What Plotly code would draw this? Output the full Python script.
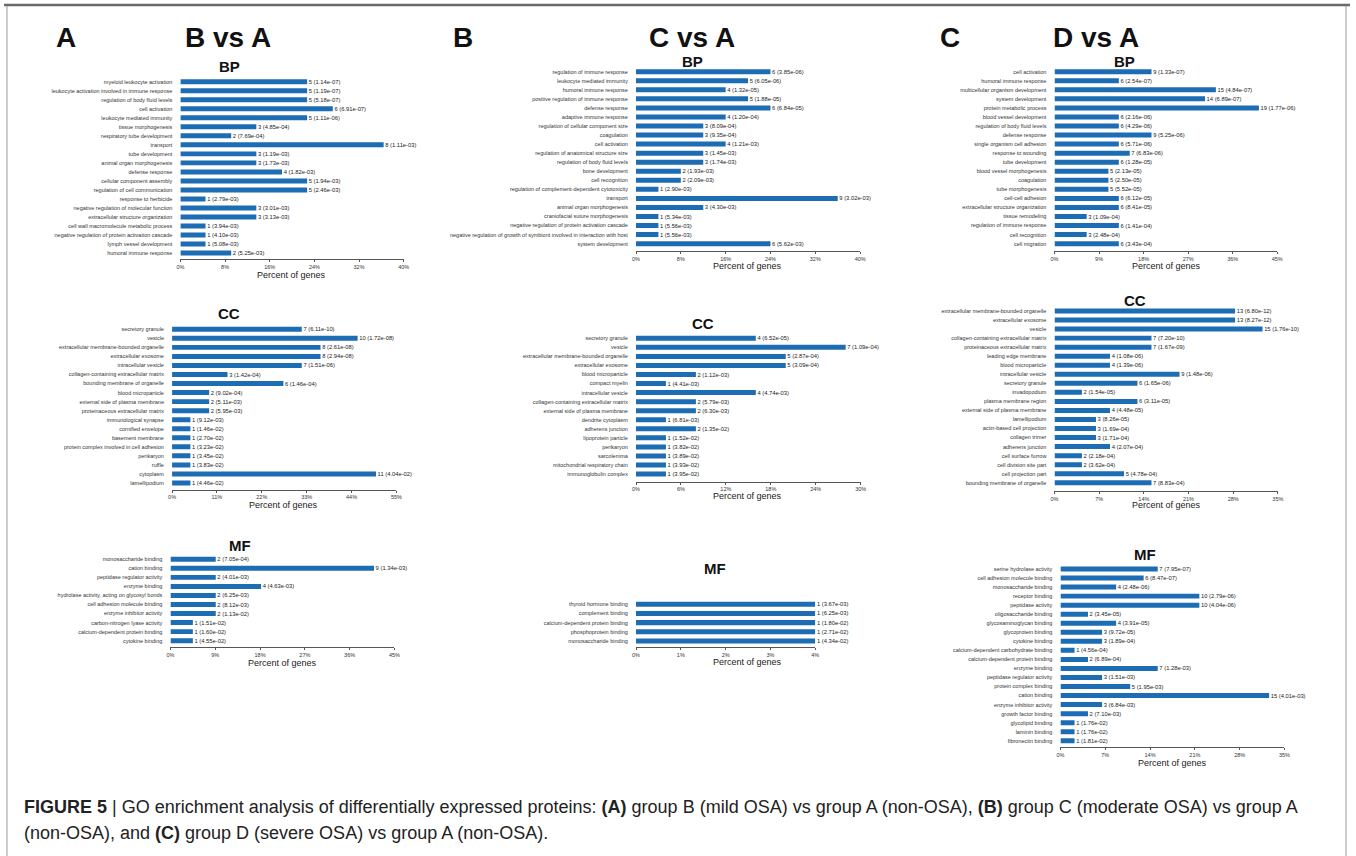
import plotly.graph_objects as go

W, H = 1356, 856
FONT = "Arial, Liberation Sans, sans-serif"
BAR = "#1c6db3"

# ---------------- data ----------------
# Panel A: B vs A
a_bp_terms = ["myeloid leukocyte activation", "leukocyte activation involved in immune response",
              "regulation of body fluid levels", "cell activation", "leukocyte mediated immunity",
              "tissue morphogenesis", "respiratory tube development", "transport", "tube development",
              "animal organ morphogenesis", "defense response", "cellular component assembly",
              "regulation of cell communication", "response to herbicide",
              "negative regulation of molecular function", "extracellular structure organization",
              "cell wall macromolecule metabolic process", "negative regulation of protein activation cascade",
              "lymph vessel development", "humoral immune response"]
a_bp_count = [5, 5, 5, 6, 5, 3, 2, 8, 3, 3, 4, 5, 5, 1, 3, 3, 1, 1, 1, 2]
a_bp_pct = [22.7, 22.7, 22.7, 27.3, 22.7, 13.6, 9.1, 36.4, 13.6, 13.6, 18.2, 22.7, 22.7, 4.5, 13.6, 13.6, 4.5, 4.5, 4.5, 9.1]
a_bp_p = ["1.14e-07", "1.19e-07", "5.18e-07", "6.91e-07", "1.11e-06", "4.85e-04", "7.69e-04", "1.11e-03",
          "1.19e-03", "1.73e-03", "1.82e-03", "1.94e-03", "2.46e-03", "2.79e-03", "3.01e-03", "3.13e-03",
          "3.94e-03", "4.10e-03", "5.08e-03", "5.25e-03"]

a_cc_terms = ["secretory granule", "vesicle", "extracellular membrane-bounded organelle", "extracellular exosome",
              "intracellular vesicle", "collagen-containing extracellular matrix", "bounding membrane of organelle",
              "blood microparticle", "external side of plasma membrane", "proteinaceous extracellular matrix",
              "immunological synapse", "cornified envelope", "basement membrane",
              "protein complex involved in cell adhesion", "perikaryon", "ruffle", "cytoplasm", "lamellipodium"]
a_cc_count = [7, 10, 8, 8, 7, 3, 6, 2, 2, 2, 1, 1, 1, 1, 1, 1, 11, 1]
a_cc_pct = [31.8, 45.5, 36.4, 36.4, 31.8, 13.6, 27.3, 9.1, 9.1, 9.1, 4.5, 4.5, 4.5, 4.5, 4.5, 4.5, 50.0, 4.5]
a_cc_p = ["6.11e-10", "1.72e-08", "2.61e-08", "2.94e-08", "1.51e-06", "1.42e-04", "1.46e-04", "9.02e-04",
          "5.11e-03", "5.95e-03", "9.12e-03", "1.46e-02", "2.70e-02", "3.23e-02", "3.45e-02", "3.83e-02",
          "4.04e-02", "4.46e-02"]

a_mf_terms = ["monosaccharide binding", "cation binding", "peptidase regulator activity", "enzyme binding",
              "hydrolase activity, acting on glycosyl bonds", "cell adhesion molecule binding",
              "enzyme inhibitor activity", "carbon-nitrogen lyase activity", "calcium-dependent protein binding",
              "cytokine binding"]
a_mf_count = [2, 9, 2, 4, 2, 2, 2, 1, 1, 1]
a_mf_pct = [9.1, 40.9, 9.1, 18.2, 9.1, 9.1, 9.1, 4.5, 4.5, 4.5]
a_mf_p = ["7.05e-04", "1.34e-03", "4.01e-03", "4.63e-03", "6.25e-03", "8.12e-03", "1.13e-02", "1.51e-02",
          "1.60e-02", "4.55e-02"]

# Panel B: C vs A
b_bp_terms = ["regulation of immune response", "leukocyte mediated immunity", "humoral immune response",
              "positive regulation of immune response", "defense response", "adaptive immune response",
              "regulation of cellular component size", "coagulation", "cell activation",
              "regulation of anatomical structure size", "regulation of body fluid levels", "bone development",
              "cell recognition", "regulation of complement-dependent cytotoxicity", "transport",
              "animal organ morphogenesis", "craniofacial suture morphogenesis",
              "negative regulation of protein activation cascade",
              "negative regulation of growth of symbiont involved in interaction with host", "system development"]
b_bp_count = [6, 5, 4, 5, 6, 4, 3, 3, 4, 3, 3, 2, 2, 1, 9, 3, 1, 1, 1, 6]
b_bp_pct = [24, 20, 16, 20, 24, 16, 12, 12, 16, 12, 12, 8, 8, 4, 36, 12, 4, 4, 4, 24]
b_bp_p = ["3.85e-06", "6.05e-06", "1.32e-05", "1.88e-05", "6.84e-05", "1.20e-04", "8.09e-04", "9.35e-04",
          "1.21e-03", "1.45e-03", "1.74e-03", "1.93e-03", "2.09e-03", "2.90e-03", "3.02e-03", "4.30e-03",
          "5.34e-03", "5.56e-03", "5.56e-03", "5.62e-03"]

b_cc_terms = ["secretory granule", "vesicle", "extracellular membrane-bounded organelle", "extracellular exosome",
              "blood microparticle", "compact myelin", "intracellular vesicle",
              "collagen-containing extracellular matrix", "external side of plasma membrane", "dendrite cytoplasm",
              "adherens junction", "lipoprotein particle", "perikaryon", "sarcolemma",
              "mitochondrial respiratory chain", "immunoglobulin complex"]
b_cc_count = [4, 7, 5, 5, 2, 1, 4, 2, 2, 1, 2, 1, 1, 1, 1, 1]
b_cc_pct = [16, 28, 20, 20, 8, 4, 16, 8, 8, 4, 8, 4, 4, 4, 4, 4]
b_cc_p = ["6.52e-05", "1.09e-04", "2.87e-04", "3.09e-04", "1.12e-03", "4.41e-03", "4.74e-03", "5.79e-03",
          "6.30e-03", "6.81e-03", "1.35e-02", "1.52e-02", "3.82e-02", "3.89e-02", "3.93e-02", "3.95e-02"]

b_mf_terms = ["thyroid hormone binding", "complement binding", "calcium-dependent protein binding",
              "phosphoprotein binding", "monosaccharide binding"]
b_mf_count = [1, 1, 1, 1, 1]
b_mf_pct = [4, 4, 4, 4, 4]
b_mf_p = ["3.67e-03", "6.25e-03", "1.80e-02", "2.71e-02", "4.34e-02"]

# Panel C: D vs A
c_bp_terms = ["cell activation", "humoral immune response", "multicellular organism development",
              "system development", "protein metabolic process", "blood vessel development",
              "regulation of body fluid levels", "defense response", "single organism cell adhesion",
              "response to wounding", "tube development", "blood vessel morphogenesis", "coagulation",
              "tube morphogenesis", "cell-cell adhesion", "extracellular structure organization",
              "tissue remodeling", "regulation of immune response", "cell recognition", "cell migration"]
c_bp_count = [9, 6, 15, 14, 19, 6, 6, 9, 6, 7, 6, 5, 5, 5, 6, 6, 3, 6, 3, 6]
c_bp_pct = [19.6, 13.0, 32.6, 30.4, 41.3, 13.0, 13.0, 19.6, 13.0, 15.2, 13.0, 10.9, 10.9, 10.9, 13.0, 13.0,
            6.5, 13.0, 6.5, 13.0]
c_bp_p = ["1.33e-07", "2.54e-07", "4.84e-07", "6.89e-07", "1.77e-06", "2.16e-06", "4.29e-06", "5.25e-06",
          "5.71e-06", "6.83e-06", "1.28e-05", "2.13e-05", "2.50e-05", "5.52e-05", "6.12e-05", "8.41e-05",
          "1.09e-04", "1.41e-04", "2.48e-04", "3.43e-04"]

c_cc_terms = ["extracellular membrane-bounded organelle", "extracellular exosome", "vesicle",
              "collagen-containing extracellular matrix", "proteinaceous extracellular matrix",
              "leading edge membrane", "blood microparticle", "intracellular vesicle", "secretory granule",
              "invadopodium", "plasma membrane region", "external side of plasma membrane", "lamellipodium",
              "actin-based cell projection", "collagen trimer", "adherens junction", "cell surface furrow",
              "cell division site part", "cell projection part", "bounding membrane of organelle"]
c_cc_count = [13, 13, 15, 7, 7, 4, 4, 9, 6, 2, 6, 4, 3, 3, 3, 4, 2, 2, 5, 7]
c_cc_pct = [28.3, 28.3, 32.6, 15.2, 15.2, 8.7, 8.7, 19.6, 13.0, 4.3, 13.0, 8.7, 6.5, 6.5, 6.5, 8.7, 4.3, 4.3,
            10.9, 15.2]
c_cc_p = ["6.80e-12", "8.27e-12", "1.76e-10", "7.20e-10", "1.67e-09", "1.08e-06", "1.39e-06", "1.48e-06",
          "1.65e-06", "1.54e-05", "3.11e-05", "4.48e-05", "8.26e-05", "1.69e-04", "1.71e-04", "2.07e-04",
          "2.18e-04", "3.62e-04", "4.78e-04", "8.83e-04"]

c_mf_terms = ["serine hydrolase activity", "cell adhesion molecule binding", "monosaccharide binding",
              "receptor binding", "peptidase activity", "oligosaccharide binding", "glycosaminoglycan binding",
              "glycoprotein binding", "cytokine binding", "calcium-dependent carbohydrate binding",
              "calcium-dependent protein binding", "enzyme binding", "peptidase regulator activity",
              "protein complex binding", "cation binding", "enzyme inhibitor activity", "growth factor binding",
              "glycolipid binding", "laminin binding", "fibronectin binding"]
c_mf_count = [7, 6, 4, 10, 10, 2, 4, 3, 3, 1, 2, 7, 3, 5, 15, 3, 2, 1, 1, 1]
c_mf_pct = [15.2, 13.0, 8.7, 21.7, 21.7, 4.3, 8.7, 6.5, 6.5, 2.2, 4.3, 15.2, 6.5, 10.9, 32.6, 6.5, 4.3, 2.2,
            2.2, 2.2]
c_mf_p = ["7.95e-07", "8.47e-07", "2.48e-06", "2.79e-06", "4.04e-06", "3.45e-05", "3.91e-05", "9.72e-05",
          "1.89e-04", "4.56e-04", "6.89e-04", "1.28e-03", "1.51e-03", "1.95e-03", "4.01e-03", "6.84e-03",
          "7.10e-03", "1.76e-02", "1.76e-02", "1.81e-02"]

# axis maxima and tick steps (percent)
axis_max = [40, 55, 45, 40, 30, 4, 45, 35, 35]
axis_step = [8, 11, 9, 8, 6, 1, 9, 7, 7]

panels = [
    (a_bp_terms, a_bp_count, a_bp_pct, a_bp_p),
    (a_cc_terms, a_cc_count, a_cc_pct, a_cc_p),
    (a_mf_terms, a_mf_count, a_mf_pct, a_mf_p),
    (b_bp_terms, b_bp_count, b_bp_pct, b_bp_p),
    (b_cc_terms, b_cc_count, b_cc_pct, b_cc_p),
    (b_mf_terms, b_mf_count, b_mf_pct, b_mf_p),
    (c_bp_terms, c_bp_count, c_bp_pct, c_bp_p),
    (c_cc_terms, c_cc_count, c_cc_pct, c_cc_p),
    (c_mf_terms, c_mf_count, c_mf_pct, c_mf_p),
]

# ---------------- layout geometry (pixels) ----------------
# x0, x1 (axis span), first bar centre, row spacing, axis line y
geom = [
    (177.7, 402.7, 81.7, 9.02, 259.3),
    (169.3, 395.3, 329.3, 9.04, 489.7),
    (167.7, 393.3, 559.3, 9.04, 647.3),
    (636.7, 862.5, 71.7, 9.05, 251.0),
    (636.7, 863.0, 338.3, 9.05, 481.7),
    (636.7, 817.3, 604.3, 9.17, 647.3),
    (1058.3, 1282.7, 71.7, 9.05, 251.0),
    (1058.3, 1283.3, 311.0, 9.04, 491.0),
    (1064.3, 1290.0, 569.0, 9.04, 747.3),
]
titles = ["BP", "CC", "MF"] * 3
title_pos = [(226.7, 66.7), (226.7, 313), (237.3, 545),
             (694, 62), (704, 323.5), (716.7, 568),
             (1129.3, 62), (1139, 300.5), (1149.3, 554)]
xlab_pos = [(290, 275), (282, 505), (280.7, 662.7),
            (749.3, 265.7), (749.3, 495.7), (749.3, 662.3),
            (1170.7, 265.7), (1170.7, 505), (1177.3, 762.7)]


def fx(p):
    return p / W


def fy(p):
    return 1 - p / H


fig = go.Figure()
layout = {}
annotations = []

for k, ((terms, counts, pct, pv), (x0, x1, p0, s, L)) in enumerate(zip(panels, geom)):
    idx = k + 1
    xa = "x" if idx == 1 else f"x{idx}"
    ya = "y" if idx == 1 else f"y{idx}"
    n = len(terms)
    rows = list(range(n))
    fig.add_trace(go.Bar(
        x=pct, y=rows, orientation="h",
        marker=dict(color=BAR, line=dict(width=0)),
        width=0.55,
        text=[f" {c} ({p})" for c, p in zip(counts, pv)],
        textposition="outside", constraintext="none", cliponaxis=False,
        textfont=dict(size=5.8, color="#222", family=FONT),
        xaxis=xa, yaxis=ya, showlegend=False, hoverinfo="skip",
    ))
    top = p0 - 0.5 * s
    layout["xaxis" if idx == 1 else f"xaxis{idx}"] = dict(
        domain=[fx(x0), fx(x1)], anchor=ya, range=[0, axis_max[k]],
        tick0=0, dtick=axis_step[k], ticksuffix="%",
        showline=True, linecolor="#555", linewidth=1.3,
        ticks="outside", ticklen=2, tickcolor="#555", tickwidth=1,
        showgrid=False, zeroline=False,
        tickfont=dict(size=5.5, color="#333", family=FONT),
        fixedrange=True,
    )
    layout["yaxis" if idx == 1 else f"yaxis{idx}"] = dict(
        domain=[fy(L), fy(top)], anchor=xa,
        range=[(L - p0) / s, -0.5],
        tickvals=rows, ticktext=terms,
        showline=False, showgrid=False, zeroline=False,
        ticks="outside", ticklen=6, tickcolor="rgba(0,0,0,0)",
        tickfont=dict(size=5.5, color="#333", family=FONT),
        fixedrange=True,
    )
    tx, ty = title_pos[k]
    annotations.append(dict(x=fx(tx), y=fy(ty), xref="paper", yref="paper", text=f"<b>{titles[k]}</b>",
                            showarrow=False, xanchor="center", yanchor="middle",
                            font=dict(size=15, color="#111", family=FONT)))
    lx, ly = xlab_pos[k]
    annotations.append(dict(x=fx(lx), y=fy(ly), xref="paper", yref="paper", text="Percent of genes",
                            showarrow=False, xanchor="center", yanchor="middle",
                            font=dict(size=9, color="#222", family=FONT)))

headers = [("A", 62), ("B vs A", 226), ("B", 462), ("C vs A", 693), ("C", 953), ("D vs A", 1100)]
for txt, hx in headers:
    annotations.append(dict(x=fx(hx), y=fy(37), xref="paper", yref="paper", text=f"<b>{txt}</b>",
                            showarrow=False, xanchor="center", yanchor="middle",
                            font=dict(size=28, color="#111", family=FONT)))

cap1 = ("<b>FIGURE 5</b> | GO enrichment analysis of differentially expressed proteins: <b>(A)</b> group B "
        "(mild OSA) vs group A (non-OSA), <b>(B)</b> group C (moderate OSA) vs group A")
cap2 = "(non-OSA), and <b>(C)</b> group D (severe OSA) vs group A (non-OSA)."
annotations.append(dict(x=fx(18), y=fy(807), xref="paper", yref="paper", text=cap1, showarrow=False,
                        xanchor="left", yanchor="middle", font=dict(size=18, color="#222", family=FONT)))
annotations.append(dict(x=fx(18), y=fy(833), xref="paper", yref="paper", text=cap2, showarrow=False,
                        xanchor="left", yanchor="middle", font=dict(size=18, color="#222", family=FONT)))

shapes = [
    dict(type="line", xref="paper", yref="paper", x0=0, x1=1, y0=fy(5), y1=fy(5),
         line=dict(color="#6a6a6a", width=2.5)),
    dict(type="line", xref="paper", yref="paper", x0=fx(3), x1=fx(3), y0=fy(6), y1=0,
         line=dict(color="#9a9a9a", width=1)),
    dict(type="line", xref="paper", yref="paper", x0=fx(1352), x1=fx(1352), y0=fy(6), y1=0,
         line=dict(color="#9a9a9a", width=1)),
]

fig.update_layout(
    width=W, height=H, margin=dict(l=0, r=0, t=0, b=0),
    paper_bgcolor="white", plot_bgcolor="white",
    font=dict(family=FONT), bargap=0.45,
    annotations=annotations, shapes=shapes,
    **layout,
)

fig.write_html("out.html", config={"displayModeBar": False},
               post_script="document.body.style.margin='0';document.body.style.overflow='hidden';")
